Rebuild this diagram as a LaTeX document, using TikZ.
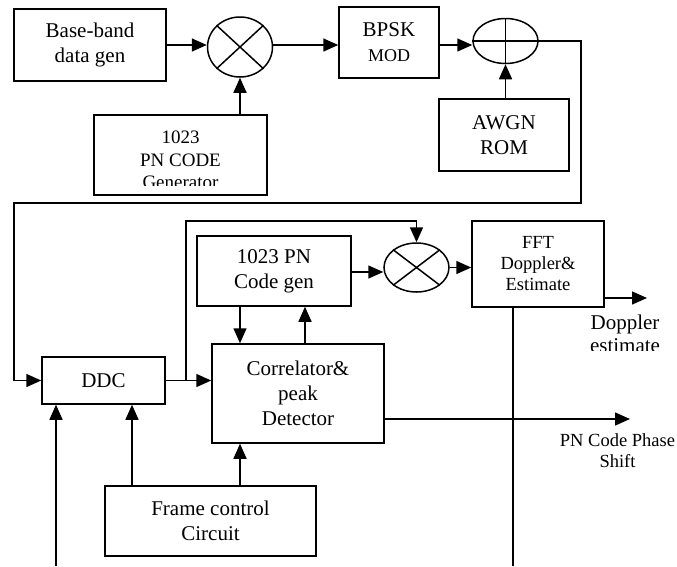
\documentclass[tikz,border=0pt]{standalone}
\usepackage{fontspec}
\setmainfont{Liberation Serif}
\usetikzlibrary{arrows.meta,shapes.geometric,calc}
\begin{document}
\begin{tikzpicture}[x=1pt,y=-1pt,
 box/.style={draw,line width=1.5pt,rectangle,inner sep=0pt,align=center,font=\fontsize{21}{25}\selectfont},
 ell/.style={draw,line width=1.5pt,ellipse,inner sep=0pt},
 arr/.style={line width=1.5pt,-{Triangle[length=15pt,width=13pt]}},
 wire/.style={line width=1.5pt},
 lbl/.style={align=center,inner sep=0pt,font=\fontsize{21}{25}\selectfont},
 small/.style={font=\fontsize{18.5}{21}\selectfont}]
\useasboundingbox (0,0) rectangle (677,566);
% blocks
\node[box,minimum width=152pt,minimum height=72pt] (bb) at (90,45) {Base-band\\data gen};
\node[ell,minimum width=65pt,minimum height=60pt] (mix1) at (240,47) {};
\node[box,minimum width=173pt,minimum height=80pt] (pngen) at (180.5,155) {};
\node[box,minimum width=100pt,minimum height=71pt] (bpsk) at (389,42.5) {{\fontsize{21}{23}\selectfont BPSK}\\{\fontsize{18}{22}\selectfont MOD}};
\node[ell,minimum width=65pt,minimum height=45pt] (add) at (505.5,41) {};
\node[box,minimum width=130pt,minimum height=72pt] (awgn) at (504,135) {AWGN\\ROM};
\node[box,minimum width=123pt,minimum height=47pt] (ddc) at (103.5,380.5) {DDC};
\node[box,minimum width=172pt,minimum height=99pt] (corr) at (298,393.5) {Correlator\&\\peak\\Detector};
\node[box,minimum width=154pt,minimum height=70pt] (pncg) at (274,271) {1023 PN\\Code gen};
\node[ell,minimum width=65pt,minimum height=49pt] (mix2) at (416.5,267.5) {};
\node[box,small,minimum width=132pt,minimum height=86pt] (fft) at (538,264) {FFT\\Doppler\&\\Estimate};
\node[box,minimum width=211pt,minimum height=70pt] (frame) at (210.5,521) {Frame control\\Circuit};
% clipped text of the PN code generator
\begin{scope}
\clip (94,115) rectangle (267,185);
\node[lbl,font=\fontsize{19}{22.5}\selectfont] (pngentxt) at (180.5,160) {1023\\PN CODE\\Generator};
\end{scope}
% mixer / adder symbols
\draw[wire] (mix1.north east) -- (mix1.south west) (mix1.north west) -- (mix1.south east);
\draw[wire] (mix2.north east) -- (mix2.south west) (mix2.north west) -- (mix2.south east);
\draw[wire] (add.north) -- (add.south) (add.west) -- (add.east);
% coordinates
\coordinate (r1) at (581,203);
\coordinate (l1) at (14,203);
\coordinate (br) at (186,380.5);
\coordinate (t1) at (186,221);
\coordinate (dopend) at (647,298);
\coordinate (pnend) at (630,419);
\coordinate (fftbot) at (513,566);
\coordinate (inb) at (56,566);
% connectors
\draw[arr] (bb.east |- 0,45) -- (mix1.west |- 0,45);
\draw[arr] (mix1.east |- 0,45) -- (bpsk.west |- 0,45);
\draw[arr] (mix1.south |- pngen.north) -- (mix1.south);
\draw[arr] (bpsk.east |- 0,45) -- (add.west |- 0,45);
\draw[arr] (add.south |- awgn.north) -- (add.south);
\draw[arr] (add.east) -| (r1) -- (l1) |- (ddc.west);
\draw[arr] (ddc.east) -- (ddc.east -| corr.west);
\draw[arr] (br) -- (t1) -| (mix2.north);
\draw[arr] ([xshift=-58pt]corr.north |- pncg.south) -- ([xshift=-58pt]corr.north);
\draw[arr] ([xshift=7pt]corr.north) -- ([xshift=7pt]corr.north |- pncg.south);
\draw[arr] (pncg.east |- 0,272) -- (mix2.west |- 0,272);
\draw[arr] (mix2.east) -- (mix2.east -| fft.west);
\draw[arr] (fft.east |- dopend) -- (dopend);
\draw[wire] (fft.south -| fftbot) -- (fftbot);
\draw[arr] (corr.east |- pnend) -- (pnend);
\draw[arr] ([xshift=-78.5pt]frame.north) -- ([xshift=-78.5pt]frame.north |- ddc.south);
\draw[arr] ([xshift=29.5pt]frame.north) -- ([xshift=29.5pt]frame.north |- corr.south);
\draw[arr] (inb) -- (inb |- ddc.south);
% labels
\begin{scope}
\clip (580,305) rectangle (677,350);
\node[lbl,font=\fontsize{21}{23}\selectfont] (doplbl) at (625,334) {Doppler\\estimate};
\end{scope}
\node[lbl,small] (pnlbl) at (617.5,451) {PN Code Phase\\Shift};
\end{tikzpicture}
\end{document}
